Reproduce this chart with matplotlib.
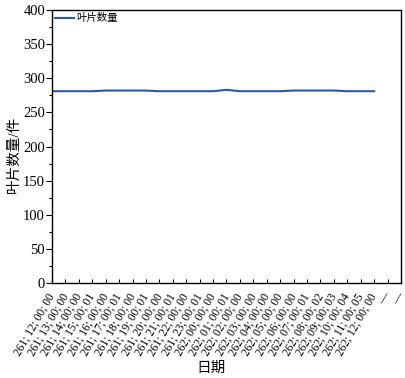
import numpy as np
import matplotlib
matplotlib.use("Agg")
import matplotlib.pyplot as plt
from matplotlib.ticker import MultipleLocator

plt.rcParams['font.family'] = ['Liberation Serif', 'Noto Sans CJK SC', 'DejaVu Sans']
plt.rcParams['axes.unicode_minus'] = False

# Hourly date labels plus two trailing placeholder categories
date_labels = [
    "261; 12; 00; 00", "261; 13; 00; 00", "261; 14; 00; 00", "261; 15; 00; 01",
    "261; 16; 00; 00", "261; 17; 00; 01", "261; 18; 00; 00", "261; 19; 00; 01",
    "261; 20; 00; 00", "261; 21; 00; 01", "261; 22; 00; 00", "261; 23; 00; 01",
    "262; 00; 00; 00", "262; 01; 00; 01", "262; 02; 00; 00", "262; 03; 00; 00",
    "262; 04; 00; 00", "262; 05; 00; 00", "262; 06; 00; 00", "262; 07; 00; 01",
    "262; 08; 00; 02", "262; 09; 00; 03", "262; 10; 00; 04", "262; 11; 00; 05",
    "262; 12; 00; 00", "—", "—",
]
leaf_count = [
    281, 281, 281, 281, 282, 282, 282, 282, 281, 281, 281, 281, 281,
    283, 281, 281, 281, 281, 282, 282, 282, 282, 281, 281, 281,
    np.nan, np.nan,
]

fig = plt.figure(figsize=(4.06, 3.78), dpi=100)
ax = fig.add_axes([52 / 406, 1 - 283 / 378, (401 - 52) / 406, (283 - 10) / 378])

x = np.arange(len(date_labels))
ax.plot(x, leaf_count, color='#2b5aa8', lw=1.5, label='叶片数量')

ax.set_xlim(0, len(date_labels) - 1)
ax.set_ylim(0, 400)
ax.yaxis.set_major_locator(MultipleLocator(50))
ax.yaxis.set_minor_locator(MultipleLocator(25))
ax.set_xticks(x)
ax.set_xticklabels(date_labels, rotation=60, ha='right', va='center',
                   rotation_mode='anchor', fontsize=8.3)

ax.tick_params(axis='y', which='major', direction='out', length=4, width=0.8,
               labelsize=10.5, pad=1)
ax.tick_params(axis='y', which='minor', direction='out', length=2, width=0.8)
ax.tick_params(axis='x', which='major', direction='in', length=3, width=0.8, pad=8)

for s in ax.spines.values():
    s.set_linewidth(1.0)

ax.set_ylabel('叶片数量/件', fontsize=10.5)
ax.yaxis.set_label_coords(-0.09, 0.47)
ax.set_xlabel('日期', fontsize=10.5)
ax.xaxis.set_label_coords(0.455, -0.29)

ax.legend(loc='upper left', frameon=False, fontsize=7.5, handlelength=1.8,
          handletextpad=0.2, borderaxespad=0.2, borderpad=0.1)

fig.savefig('out.png', dpi=100)
